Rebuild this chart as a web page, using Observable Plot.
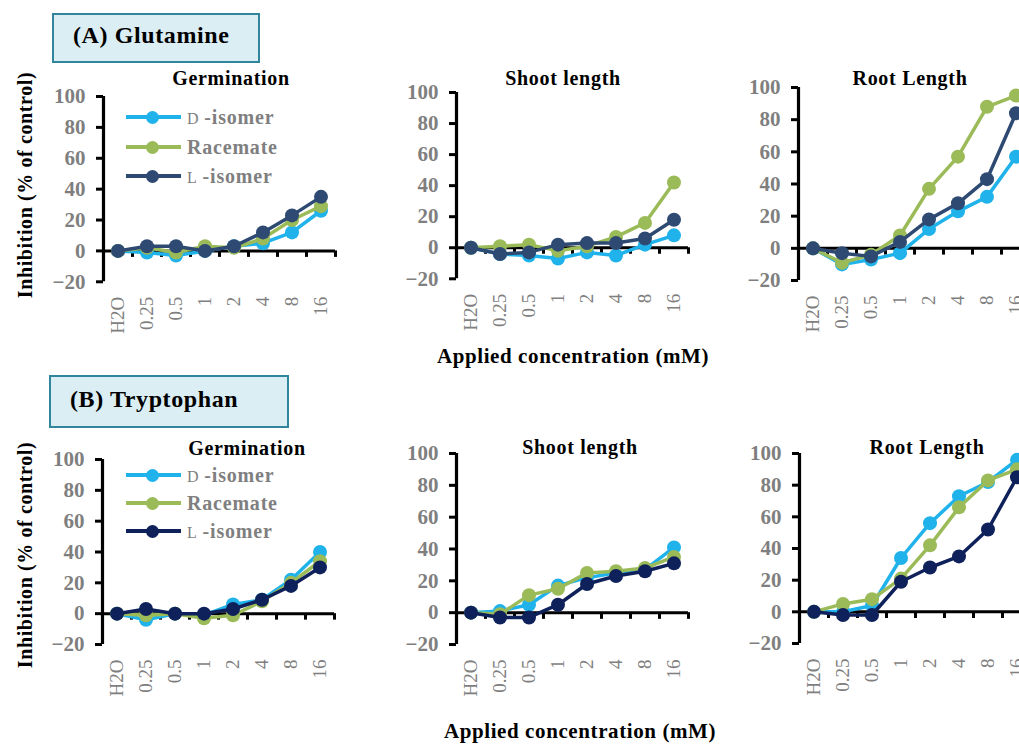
<!DOCTYPE html>
<html>
<head>
<meta charset="utf-8">
<script src="https://cdn.jsdelivr.net/npm/d3@7"></script>
<script src="https://cdn.jsdelivr.net/npm/@observablehq/plot@0.6"></script>
<style>
  html, body { margin: 0; padding: 0; background: #fff; }
  #fig { position: relative; width: 1019px; height: 744px; overflow: hidden; background: #fff;
         font-family: 'Liberation Serif', 'Times New Roman', serif; }
  .abs { position: absolute; white-space: nowrap; }
  .box { position: absolute; background: #dbeef3; border: 2.5px solid #31859c; box-sizing: border-box; }
  .boxtxt { position: absolute; font-weight: bold; font-size: 24px; letter-spacing: 0.6px; color: #000; white-space: nowrap; }
  .ptitle { position: absolute; font-weight: bold; font-size: 20px; letter-spacing: 0.7px; color: #000; transform: translate(-50%, -50%); white-space: nowrap; }
  .ytitle { position: absolute; font-weight: bold; font-size: 20px; letter-spacing: 0.6px; color: #000; transform: translate(-50%, -50%) rotate(-90deg); white-space: nowrap; }
  .xtitle { position: absolute; font-weight: bold; font-size: 21px; letter-spacing: 0.6px; color: #000; transform: translate(-50%, -50%); white-space: nowrap; }
  .legtxt { position: absolute; font-weight: bold; font-size: 20px; letter-spacing: 0.8px; color: #7f7f7f; transform: translateY(-50%); white-space: nowrap; }
  .plot { position: absolute; }
</style>
</head>
<body>
<div id="fig"></div>
<script>
// ---------------- data ----------------
const concentrations = ["H2O", "0.25", "0.5", "1", "2", "4", "8", "16"];
const series = ["D-isomer", "Racemate", "L-isomer"];
const yTicks = [-20, 0, 20, 40, 60, 80, 100];

// (A) Glutamine
const glnGermD  = [0, -1, -3, 0, 3, 5, 12, 26];
const glnGermR  = [0, 2, -1, 3, 2, 8, 20, 29];
const glnGermL  = [0, 3, 3, 0, 3, 12, 23, 35];
const glnShootD = [0, -4, -5, -7, -3, -5, 2, 8];
const glnShootR = [0, 1, 2, -2, 1, 7, 16, 42];
const glnShootL = [0, -4, -3, 2, 3, 3, 6, 18];
const glnRootD  = [0, -10, -7, -3, 12, 23, 32, 57];
const glnRootR  = [0, -9, -4, 8, 37, 57, 88, 95];
const glnRootL  = [0, -3, -5, 4, 18, 28, 43, 84];

// (B) Tryptophan
const trpGermD  = [0, -4, 0, -1, 6, 9, 22, 40];
const trpGermR  = [0, -1, 0, -3, -1, 8, 20, 34];
const trpGermL  = [0, 3, 0, 0, 3, 9, 18, 30];
const trpShootD = [0, 1, 5, 17, 22, 25, 27, 41];
const trpShootR = [0, -1, 11, 15, 25, 26, 28, 35];
const trpShootL = [0, -3, -3, 5, 18, 23, 26, 31];
const trpRootD  = [0, 0, 4, 34, 56, 73, 82, 96];
const trpRootR  = [0, 5, 8, 21, 42, 66, 83, 90];
const trpRootL  = [0, -2, -2, 19, 28, 35, 52, 85];

const colorsA = ["#20b2ea", "#9bbb59", "#2e4a72"];
const colorsB = ["#20b2ea", "#9bbb59", "#0f215a"];

// ---------------- layout ----------------
const fig = document.getElementById("fig");
const FONT = "'Liberation Serif', 'Times New Roman', serif";
const PLOT_W = 232;           // width of category area
const ML = 62, MR = 24, MT = 16, MB = 70;

function el(cls, html, style) {
  const d = document.createElement("div");
  d.className = cls;
  d.innerHTML = html;
  Object.assign(d.style, style);
  fig.appendChild(d);
  return d;
}

function panel({left, top100, bottom20, values, colors}) {
  const data = [];
  series.forEach((s, si) => values[si].forEach((v, i) => data.push({series: s, i: i + 0.5, v})));
  const centers = concentrations.map((c, i) => i + 0.5);
  const bounds = concentrations.map((c, i) => i + 1);
  const marks = [
    Plot.ruleY([0], {stroke: "black", strokeWidth: 3}),
    Plot.ruleX(bounds, {x: d => d, y1: 0, y2: -4.2, stroke: "black", strokeWidth: 3}),
    Plot.ruleX([0], {stroke: "black", strokeWidth: 3.2}),
    Plot.axisY({ticks: yTicks, label: null, tickSize: 7, tickPadding: 11, stroke: "black", strokeWidth: 3,
                fill: "#7f7f7f", fontSize: 21, fontWeight: "bold",
                tickFormat: d => d < 0 ? "\u2212" + (-d) : String(d)}),
    Plot.axisX({ticks: centers, label: null, tickFormat: d => concentrations[Math.floor(d)], tickRotate: -90,
                tickSize: 0, tickPadding: 15, fill: "#7f7f7f", fontSize: 19})
  ];
  series.forEach((s, si) => {
    const sd = data.filter(d => d.series === s);
    marks.push(Plot.line(sd, {x: "i", y: "v", stroke: "series", strokeWidth: 3.5}));
    marks.push(Plot.dot(sd, {x: "i", y: "v", fill: "series", r: 7}));
  });
  const h = bottom20 - top100;
  const svg = Plot.plot({
    width: ML + PLOT_W + MR,
    height: MT + h + MB,
    marginLeft: ML, marginRight: MR, marginTop: MT, marginBottom: MB,
    x: {domain: [0, concentrations.length], label: null},
    y: {domain: [-20, 100], label: null},
    color: {domain: series, range: colors},
    style: {fontFamily: FONT, background: "transparent", overflow: "visible"},
    marks
  });
  svg.classList.add("plot");
  svg.style.left = (left - ML) + "px";
  svg.style.top = (top100 - MT) + "px";
  fig.appendChild(svg);
}

function legend(rows, colors) {
  series.forEach((s, si) => {
    const y = rows[si];
    el("abs", "", {left: "126px", top: (y - 2) + "px", width: "55px", height: "4px", background: colors[si]});
    el("abs", "", {left: (152.5 - 6.5) + "px", top: (y - 6.5) + "px", width: "13px", height: "13px",
                   borderRadius: "50%", background: colors[si]});
    const parts = s.split("-");
    const label = parts[0].length === 1
      ? `<span style="font-size:16px;font-weight:normal;letter-spacing:0">${parts[0]}</span> -${parts[1]}`
      : s;
    el("legtxt", label, {left: "187px", top: y + "px"});
  });
}

// ---------------- (A) Glutamine ----------------
el("box", "", {left: "52px", top: "13px", width: "208px", height: "50px"});
el("boxtxt", "(A) Glutamine", {left: "73px", top: "22px"});
el("ytitle", "Inhibition (% of control)", {left: "25px", top: "185px"});
el("ptitle", "Germination", {left: "231px", top: "78px"});
el("ptitle", "Shoot length", {left: "563px", top: "78px"});
el("ptitle", "Root Length", {left: "910px", top: "78px"});
panel({left: 103, top100: 95.7, bottom20: 281, values: [glnGermD, glnGermR, glnGermL], colors: colorsA});
panel({left: 456, top100: 91.7, bottom20: 278, values: [glnShootD, glnShootR, glnShootL], colors: colorsA});
panel({left: 798, top100: 87, bottom20: 280, values: [glnRootD, glnRootR, glnRootL], colors: colorsA});
legend([117, 147, 176], colorsA);
el("xtitle", "Applied concentration (mM)", {left: "573px", top: "356px"});

// ---------------- (B) Tryptophan ----------------
el("box", "", {left: "49px", top: "375px", width: "240px", height: "53px"});
el("boxtxt", "(B) Tryptophan", {left: "70px", top: "386px"});
el("ytitle", "Inhibition (% of control)", {left: "25px", top: "555px"});
el("ptitle", "Germination", {left: "247px", top: "448px"});
el("ptitle", "Shoot length", {left: "580px", top: "447px"});
el("ptitle", "Root Length", {left: "927px", top: "447px"});
panel({left: 102, top100: 459, bottom20: 644, values: [trpGermD, trpGermR, trpGermL], colors: colorsB});
panel({left: 456, top100: 453, bottom20: 644, values: [trpShootD, trpShootR, trpShootL], colors: colorsB});
panel({left: 799, top100: 453, bottom20: 643, values: [trpRootD, trpRootR, trpRootL], colors: colorsB});
legend([475, 503, 531], colorsB);
el("xtitle", "Applied concentration (mM)", {left: "580px", top: "731px"});
</script>
</body>
</html>
